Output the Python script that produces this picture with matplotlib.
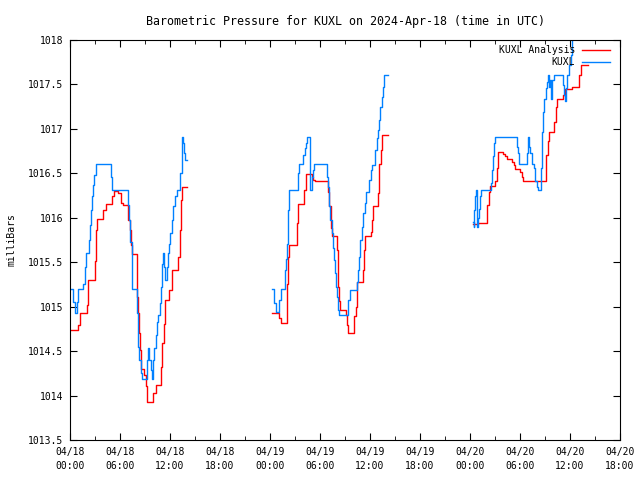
import numpy as np
import matplotlib
matplotlib.use("Agg")
import matplotlib.pyplot as plt

# horas desde 2024-04-18 00:00 UTC, presion en milibares
kuxl_t1 = [0.1, 0.36, 0.54, 0.78, 1.0, 1.6, 1.74, 1.86, 2.28, 2.4, 2.52, 2.68, 2.8, 2.92, 3.08,
           4.92, 5.04, 7.0, 7.08, 7.2, 7.4, 7.48, 8.0, 8.12, 8.2, 8.32, 8.48, 8.6, 9.28, 9.4,
           9.52, 9.68, 9.8, 10.0, 10.12, 10.28, 10.4, 10.6, 10.8, 10.92, 11.08, 11.2, 11.32,
           11.4, 11.6, 11.72, 11.88, 12.0, 12.2, 12.4, 12.6, 12.8, 13.2, 13.4, 13.48, 13.6,
           13.72, 13.84, 14.0]
kuxl_p1 = [1015.2, 1015.05, 1014.93, 1015.05, 1015.2, 1015.26, 1015.45, 1015.6, 1015.75,
           1015.92, 1016.09, 1016.24, 1016.37, 1016.48, 1016.6, 1016.46, 1016.31, 1016.14,
           1015.97, 1015.73, 1015.38, 1015.2, 1014.93, 1014.74, 1014.55, 1014.4, 1014.25,
           1014.19, 1014.4, 1014.53, 1014.4, 1014.29, 1014.19, 1014.4, 1014.53, 1014.68,
           1014.83, 1014.91, 1015.04, 1015.22, 1015.48, 1015.6, 1015.45, 1015.3, 1015.45,
           1015.6, 1015.71, 1015.83, 1015.98, 1016.13, 1016.24, 1016.31, 1016.5, 1016.76,
           1016.91, 1016.84, 1016.73, 1016.65, 1016.65]

anal_t1 = [0.0, 1.0, 1.16, 2.0, 2.16, 3.0, 3.12, 3.2, 4.0, 4.28, 5.0, 5.28, 5.8, 6.12, 6.32,
           7.0, 7.2, 7.32, 7.4, 8.0, 8.08, 8.2, 8.28, 8.4, 8.48, 8.88, 9.12, 9.28, 10.0, 10.32,
           10.88, 11.0, 11.28, 11.4, 11.92, 12.28, 13.0, 13.2, 13.32, 13.4, 14.0]
anal_p1 = [1014.74, 1014.79, 1014.93, 1015.02, 1015.3, 1015.51, 1015.86, 1015.99, 1016.09,
           1016.15, 1016.24, 1016.3, 1016.28, 1016.17, 1016.14, 1015.97, 1015.86, 1015.69,
           1015.59, 1015.38, 1015.11, 1014.93, 1014.7, 1014.51, 1014.3, 1014.23, 1014.11,
           1013.93, 1014.03, 1014.12, 1014.32, 1014.59, 1014.81, 1015.08, 1015.19, 1015.41,
           1015.56, 1015.86, 1016.2, 1016.35, 1016.35]

kuxl_t2 = [24.28, 24.52, 24.68, 25.12, 25.28, 25.8, 25.92, 26.0, 26.12, 26.2, 26.32, 27.32,
           27.4, 27.52, 28.0, 28.2, 28.32, 28.44, 28.76, 28.84, 29.0, 29.12, 29.28, 30.8,
           30.92, 31.08, 31.24, 31.4, 31.56, 31.72, 31.84, 31.96, 32.08, 32.2, 32.32, 33.4,
           33.64, 34.44, 34.56, 34.68, 34.84, 35.0, 35.2, 35.4, 35.56, 35.88, 36.08, 36.2,
           36.6, 36.8, 36.92, 37.08, 37.2, 37.4, 37.6, 37.72, 38.12]
kuxl_p2 = [1015.2, 1015.04, 1014.94, 1015.08, 1015.2, 1015.41, 1015.54, 1015.71, 1015.9,
           1016.09, 1016.31, 1016.39, 1016.5, 1016.61, 1016.71, 1016.78, 1016.84, 1016.91,
           1016.5, 1016.31, 1016.46, 1016.54, 1016.6, 1016.46, 1016.35, 1016.13, 1015.97,
           1015.83, 1015.66, 1015.52, 1015.38, 1015.22, 1015.11, 1014.96, 1014.91, 1015.08,
           1015.19, 1015.28, 1015.41, 1015.56, 1015.75, 1015.9, 1016.05, 1016.17, 1016.29,
           1016.43, 1016.54, 1016.59, 1016.76, 1016.9, 1016.99, 1017.1, 1017.25, 1017.36,
           1017.47, 1017.61, 1017.61]

anal_t2 = [24.28, 25.12, 25.32, 26.04, 26.2, 26.32, 27.24, 27.32, 28.08, 28.28, 29.0, 29.2,
           29.4, 31.0, 31.12, 31.28, 31.4, 32.08, 32.2, 32.32, 32.4, 33.12, 33.28, 33.4, 34.12,
           34.28, 34.4, 35.2, 35.32, 35.4, 36.08, 36.2, 36.4, 37.0, 37.12, 37.28, 37.4, 38.12]
anal_p2 = [1014.93, 1014.87, 1014.82, 1015.26, 1015.56, 1015.69, 1015.94, 1016.15, 1016.31,
           1016.49, 1016.46, 1016.43, 1016.41, 1016.29, 1016.13, 1015.89, 1015.79, 1015.64,
           1015.22, 1015.06, 1014.96, 1014.91, 1014.79, 1014.7, 1014.89, 1015.0, 1015.28,
           1015.41, 1015.64, 1015.79, 1015.84, 1015.97, 1016.13, 1016.28, 1016.61, 1016.76,
           1016.93, 1016.93]

kuxl_t3 = [48.4, 48.48, 48.52, 48.6, 48.72, 48.88, 49.0, 49.08, 49.2, 49.32, 50.52, 50.6,
           50.72, 50.88, 51.0, 53.68, 53.8, 53.92, 54.84, 54.92, 55.0, 55.12, 55.24, 55.4,
           55.72, 55.8, 56.0, 56.12, 56.52, 56.6, 56.68, 56.8, 56.92, 57.08, 57.2, 57.32,
           57.48, 57.6, 57.72, 57.88, 58.12, 59.12, 59.28, 59.4, 59.52, 59.68, 59.92, 60.08,
           60.24, 62.16]
kuxl_p3 = [1015.95, 1015.9, 1016.09, 1016.24, 1016.31, 1015.9, 1016.0, 1016.1, 1016.24,
           1016.31, 1016.39, 1016.54, 1016.69, 1016.84, 1016.91, 1016.8, 1016.73, 1016.61,
           1016.73, 1016.84, 1016.91, 1016.8, 1016.73, 1016.61, 1016.56, 1016.41, 1016.35,
           1016.31, 1016.56, 1016.78, 1016.97, 1017.19, 1017.34, 1017.46, 1017.53, 1017.61,
           1017.47, 1017.55, 1017.34, 1017.55, 1017.61, 1017.49, 1017.38, 1017.31, 1017.46,
           1017.61, 1017.72, 1017.83, 1018.1, 1018.1]

anal_t3 = [48.4, 49.0, 50.0, 50.08, 50.32, 50.44, 51.0, 51.2, 51.32, 51.4, 52.0, 52.24, 52.4,
           53.0, 53.28, 53.4, 54.0, 54.28, 54.4, 57.08, 57.32, 57.48, 58.12, 58.32, 58.44,
           59.2, 59.4, 60.2, 61.12, 61.32, 62.16]
anal_p3 = [1015.93, 1015.94, 1016.01, 1016.14, 1016.29, 1016.36, 1016.41, 1016.56, 1016.67,
           1016.74, 1016.72, 1016.69, 1016.66, 1016.63, 1016.59, 1016.55, 1016.52, 1016.46,
           1016.41, 1016.71, 1016.86, 1016.97, 1017.08, 1017.25, 1017.34, 1017.38, 1017.45,
           1017.47, 1017.61, 1017.72, 1017.72]

xtick_pos = [0, 6, 12, 18, 24, 30, 36, 42, 48, 54, 60, 66]
xtick_lbl = ["04/18\n00:00", "04/18\n06:00", "04/18\n12:00", "04/18\n18:00",
             "04/19\n00:00", "04/19\n06:00", "04/19\n12:00", "04/19\n18:00",
             "04/20\n00:00", "04/20\n06:00", "04/20\n12:00", "04/20\n18:00"]
ytick_pos = [1013.5, 1014, 1014.5, 1015, 1015.5, 1016, 1016.5, 1017, 1017.5, 1018]

plt.rcParams['font.family'] = ['DejaVu Sans Mono']
plt.rcParams['font.size'] = 7

fig = plt.figure(figsize=(6.4, 4.8), dpi=100)
ax = fig.add_axes([70/640, 40/480, 550/640, 400/480])

rojo = '#ff0000'
azul = '#0080ff'
segs_anal = [(anal_t1, anal_p1), (anal_t2, anal_p2), (anal_t3, anal_p3)]
segs_kuxl = [(kuxl_t1, kuxl_p1), (kuxl_t2, kuxl_p2), (kuxl_t3, kuxl_p3)]
for i, (t, p) in enumerate(segs_anal):
    ax.plot(t, p, drawstyle='steps-post', color=rojo, lw=1.0,
            label='KUXL Analysis' if i == 0 else None)
for i, (t, p) in enumerate(segs_kuxl):
    ax.plot(t, p, drawstyle='steps-post', color=azul, lw=1.0,
            label='KUXL' if i == 0 else None)

ax.set_xlim(0, 66)
ax.set_ylim(1013.5, 1018)
ax.set_xticks(xtick_pos)
ax.set_xticklabels(xtick_lbl, linespacing=1.5)
ax.set_xticks(np.arange(3, 66, 6), minor=True)
ax.set_yticks(ytick_pos)
ax.set_yticklabels([f"{v:g}" for v in ytick_pos])
ax.tick_params(which='both', direction='in', top=True, right=True, pad=5)
ax.tick_params(which='major', length=5)
ax.tick_params(which='minor', length=3)
ax.set_ylabel('milliBars', labelpad=8)
ax.set_title('Barometric Pressure for KUXL on 2024-Apr-18 (time in UTC)', pad=11)

leg = ax.legend(loc='upper right', frameon=False, markerfirst=False,
                bbox_to_anchor=(610/640, 1 - 45/480), bbox_transform=fig.transFigure,
                borderpad=0, borderaxespad=0,
                handlelength=2.9, labelspacing=0.25, handletextpad=0.7)
for txt in leg.get_texts():
    txt.set_ha('right')
leg._legend_box.align = 'right'

fig.savefig('out.png', dpi=100)
